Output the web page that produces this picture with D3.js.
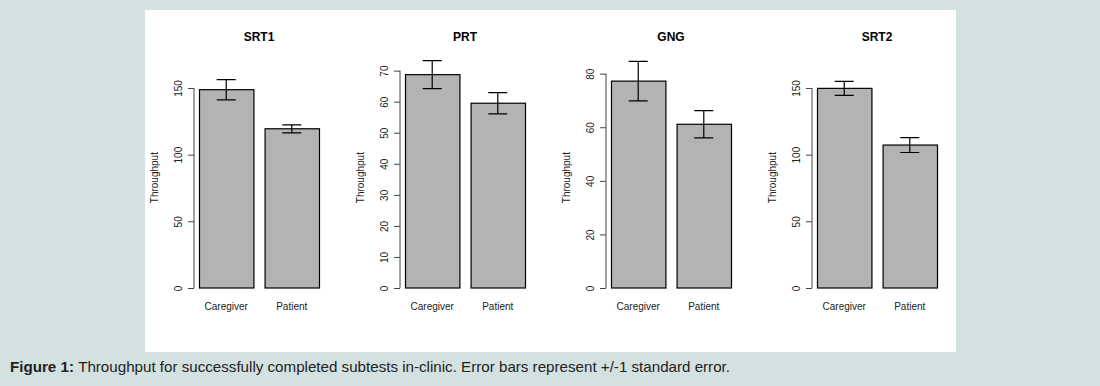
<!DOCTYPE html>
<meta charset="utf-8">
<script src="https://d3js.org/d3.v7.min.js"></script>
<style>
body { margin: 0; background: #d3e1e0; }
svg { display: block; }
.tick text { font: 10px "Liberation Sans", Arial, sans-serif; fill: #222; }
.axisR path, .axisR line { stroke: #444; }
</style>
<svg width="1100" height="386"></svg>
<script>

// data
var panels = ["SRT1", "PRT", "GNG", "SRT2"];
var groups = ["Caregiver", "Patient"];
var means = [[148.7, 119.4], [68.7, 59.5], [77.2, 61.1], [149.7, 107.2]];
var stdErr = [[7.6, 3.0], [4.5, 3.4], [7.4, 5.1], [5.3, 5.6]];
var yMax = [170, 73, 84.6, 170];
var yTicks = [[0, 50, 100, 150], [0, 10, 20, 30, 40, 50, 60, 70], [0, 20, 40, 60, 80], [0, 50, 100, 150]];

var svg = d3.select("svg");

// white figure box
svg.append("rect")
    .attr("x", 145).attr("y", 10)
    .attr("width", 811).attr("height", 342)
    .attr("fill", "#fff");

var pitch = 206, left0 = 199, barSpan = 120;
var plotTop = 61.3, plotBottom = 288;

panels.forEach(function(name, i) {
  var x0 = left0 + pitch * i;
  var g = svg.append("g");

  var x = d3.scaleBand()
      .domain(groups)
      .range([x0, x0 + barSpan])
      .paddingInner(0.17);
  var y = d3.scaleLinear()
      .domain([0, yMax[i]])
      .range([plotBottom, plotTop]);

  // title
  g.append("text")
      .attr("x", x0 + barSpan / 2)
      .attr("y", 41)
      .attr("text-anchor", "middle")
      .style("font", "bold 12px 'Liberation Sans', Arial, sans-serif")
      .text(name);

  // y axis, R style: line only spans the ticks, labels rotated
  var ticks = yTicks[i];
  var ax = g.append("g")
      .attr("class", "axisR")
      .attr("transform", "translate(" + (x0 - 5) + ",0)")
      .call(d3.axisLeft(y).tickValues(ticks).tickSize(6).tickSizeOuter(0).tickPadding(6));
  ax.select(".domain")
      .attr("d", "M0," + y(ticks[0]) + "V" + y(ticks[ticks.length - 1]));
  ax.selectAll(".tick text")
      .attr("transform", "rotate(-90)")
      .attr("x", 0)
      .attr("y", -12)
      .attr("dy", "0")
      .attr("text-anchor", "middle");

  g.append("text")
      .attr("transform", "translate(" + (x0 - 41) + "," + ((plotTop + plotBottom) / 2 + 3) + ") rotate(-90)")
      .attr("text-anchor", "middle")
      .style("font", "10px 'Liberation Sans', Arial, sans-serif")
      .attr("fill", "#222")
      .text("Throughput");

  // bars
  g.selectAll("rect.bar")
      .data(groups)
    .enter().append("rect")
      .attr("class", "bar")
      .attr("x", function(d) { return x(d) + 0.5; })
      .attr("y", function(d, j) { return y(means[i][j]); })
      .attr("width", x.bandwidth())
      .attr("height", function(d, j) { return y(0) - y(means[i][j]); })
      .attr("fill", "#b3b3b3")
      .attr("stroke", "#000")
      .attr("stroke-width", 1.2);

  // error bars
  var cap = 9.5;
  groups.forEach(function(d, j) {
    var cx = x(d) + x.bandwidth() / 2;
    var hi = y(means[i][j] + stdErr[i][j]), lo = y(means[i][j] - stdErr[i][j]);
    var p = d3.path();
    p.moveTo(cx, hi); p.lineTo(cx, lo);
    p.moveTo(cx - cap, hi); p.lineTo(cx + cap, hi);
    p.moveTo(cx - cap, lo); p.lineTo(cx + cap, lo);
    g.append("path")
        .attr("d", p.toString())
        .attr("stroke", "#000")
        .attr("stroke-width", 1.2)
        .attr("fill", "none");
  });

  // category labels
  g.selectAll("text.cat")
      .data(groups)
    .enter().append("text")
      .attr("class", "cat")
      .attr("x", function(d) { return x(d) + x.bandwidth() / 2; })
      .attr("y", 310)
      .attr("text-anchor", "middle")
      .attr("fill", "#222")
      .style("font", "10px 'Liberation Sans', Arial, sans-serif")
      .text(function(d) { return d; });
});

// caption
var cap = svg.append("text")
    .attr("x", 10)
    .attr("y", 372)
    .attr("textLength", 720)
    .attr("lengthAdjust", "spacingAndGlyphs")
    .style("font", "15px 'Liberation Sans Narrow', 'Liberation Sans', Arial, sans-serif")
    .attr("fill", "#222");
cap.append("tspan").style("font-weight", "bold").text("Figure 1: ");
cap.append("tspan").text("Throughput for successfully completed subtests in-clinic. Error bars represent +/-1 standard error.");

</script>
